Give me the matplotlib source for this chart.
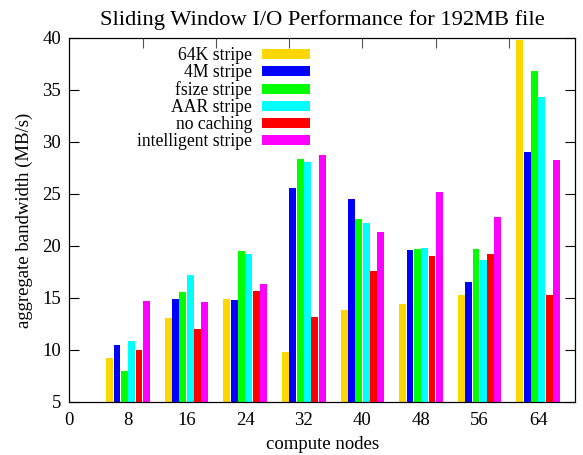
import matplotlib
matplotlib.use('Agg')
import matplotlib.pyplot as plt
import numpy as np

plt.rcParams['font.family'] = ['Liberation Serif', 'DejaVu Serif']
plt.rcParams['font.size'] = 13.5

# data
nodes = [8, 16, 24, 32, 40, 48, 56, 64]
series_names = ['64K stripe', '4M stripe', 'fsize stripe', 'AAR stripe',
                'no caching', 'intelligent stripe']
stripe_64k = [9.2, 13.05, 14.93, 9.8, 13.8, 14.4, 15.3, 39.85]
stripe_4m = [10.46, 14.93, 14.77, 25.6, 24.5, 19.65, 16.5, 29.0]
stripe_fsize = [7.97, 15.57, 19.49, 28.35, 22.6, 19.75, 19.7, 36.85]
stripe_aar = [10.84, 17.23, 19.24, 28.07, 22.2, 19.85, 18.7, 34.3]
no_caching = [9.98, 12.0, 15.7, 13.2, 17.6, 19.08, 19.2, 15.3]
intelligent = [14.67, 14.58, 16.3, 28.73, 21.3, 25.2, 22.8, 28.3]
colors = ['#ffd700', '#0000ff', '#00ff00', '#00ffff', '#ff0000', '#ff00ff']

all_series = [stripe_64k, stripe_4m, stripe_fsize, stripe_aar, no_caching, intelligent]

fig = plt.figure(figsize=(5.83, 4.55), dpi=100)
ax = fig.add_axes([0.119, 0.1165, 0.867, 0.8])

x = np.array(nodes, dtype=float)
bw = 1.0
base = 5
for i, (vals, name, c) in enumerate(zip(all_series, series_names, colors)):
    v = np.array(vals)
    ax.bar(x + (i - 2.5) * bw, v - base, bottom=base, width=bw * 0.94,
           color=c, label=name, linewidth=0)

ax.set_xlim(0, 69)
ax.set_ylim(5, 40)
ax.set_xticks([0] + nodes)
ax.set_xticklabels([str(n) for n in [0] + nodes])
ax.set_yticks(range(5, 41, 5))
ax.tick_params(axis='x', length=0, pad=7)
ax.tick_params(axis='y', direction='in', length=7, right=True, pad=6)

# gnuplot style mirror ticks along the top
ax2 = ax.twiny()
ax2.set_xlim(ax.get_xlim())
ax2.set_xticks([10, 20, 30, 40, 50, 60])
ax2.set_xticklabels([])
ax2.tick_params(axis='x', direction='in', length=7, color='#555555')

ax.set_xlabel('compute nodes', labelpad=5)
ax.set_ylabel('aggregate bandwidth (MB/s)', labelpad=7)
ax.set_title('Sliding Window I/O Performance for 192MB file', pad=9.5)

ax.legend(loc='upper right', bbox_to_anchor=(0.494, 0.999), frameon=False,
          markerfirst=False, handlelength=2.75, handleheight=0.46,
          labelspacing=0.0, borderpad=0, handletextpad=0.55, fontsize=12.7)

fig.savefig('out.png', dpi=100)
